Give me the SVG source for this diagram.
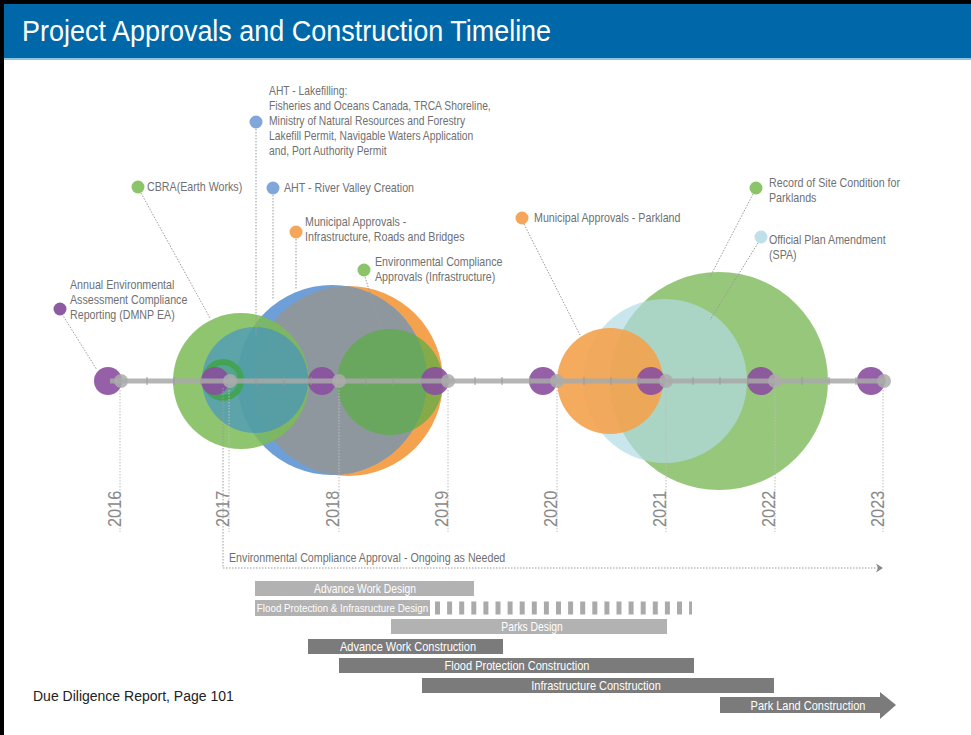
<svg xmlns="http://www.w3.org/2000/svg" width="971" height="735" viewBox="0 0 971 735">
<defs>
<style>
.lbl{font-family:"Liberation Sans",Arial,sans-serif;font-size:12px;fill:#707070}
.yr{font-family:"Liberation Sans",Arial,sans-serif;font-size:19px;fill:#8a8a8a}
.bt{font-family:"Liberation Sans",Arial,sans-serif;font-size:12px;fill:#ffffff;text-anchor:middle}
.bd{font-size:12.5px}
.lead{stroke:#9a9a9a;stroke-width:1;stroke-dasharray:1.5 1.5;fill:none}
.yl{stroke:#bdbdbd;stroke-width:1;stroke-dasharray:1.5 1.5}
.pd{fill:#8a4f9f;opacity:0.9}
.cap{fill:#ababab;opacity:0.85}
.tick{stroke:#999999;stroke-width:1}
.lb{fill:#b2b2b2}
.db{fill:#7b7b7b}
</style>
<clipPath id="orClip"><circle cx="348" cy="381" r="95"/></clipPath>
</defs>
<rect x="0" y="0" width="971" height="735" fill="#ffffff"/>
<rect x="0" y="0" width="971" height="4" fill="#000000"/>
<rect x="0" y="0" width="4" height="735" fill="#000000"/>
<rect x="4" y="4" width="967" height="54" fill="#0068a8"/>
<rect x="4" y="58" width="967" height="2" fill="#8fc3e0"/>
<text transform="translate(22,41) scale(0.93,1)" font-family="Liberation Sans, Arial, sans-serif" font-size="29" fill="#ffffff">Project Approvals and Construction Timeline</text>

<!-- big circles, left cluster -->
<g id="circles-2017-2019">
<circle cx="348" cy="381" r="95" fill="#f5a24f"/>
<circle cx="332" cy="380" r="95" fill="#6e9fd8"/>
<circle cx="332" cy="380" r="95" fill="#8f979e" clip-path="url(#orClip)"/>
<circle cx="390" cy="382" r="53" fill="#5aad45" opacity="0.72"/>
<circle cx="241" cy="381" r="68" fill="#7dbb57" opacity="0.85"/>
<circle cx="255" cy="380" r="53" fill="#3b8dd0" opacity="0.6"/>
<circle cx="223" cy="380" r="18" fill="#3fa448" fill-opacity="0.25" stroke="#3fa448" stroke-width="6" stroke-opacity="0.85"/>
</g>

<!-- big circles, right cluster -->
<g id="circles-2020-2022">
<circle cx="719" cy="381" r="109" fill="#97c77a"/>
<circle cx="665" cy="381" r="82" fill="#b2dbe5" opacity="0.7"/>
<circle cx="610" cy="381" r="53" fill="#f4a24c" opacity="0.9"/>
</g>

<!-- year guide lines -->
<g id="year-lines">
<line class="yl" x1="120" y1="390" x2="120" y2="532"/>
<line class="yl" x1="229" y1="390" x2="229" y2="532"/>
<line class="yl" x1="339" y1="390" x2="339" y2="532"/>
<line class="yl" x1="448" y1="390" x2="448" y2="532"/>
<line class="yl" x1="557" y1="390" x2="557" y2="532"/>
<line class="yl" x1="666" y1="390" x2="666" y2="532"/>
<line class="yl" x1="775" y1="390" x2="775" y2="532"/>
<line class="yl" x1="883" y1="390" x2="883" y2="532"/>
</g>

<!-- timeline axis -->
<g id="axis">
<circle class="pd" cx="108" cy="381" r="14"/>
<circle class="pd" cx="215" cy="381" r="14"/>
<circle class="pd" cx="322" cy="381" r="14"/>
<circle class="pd" cx="435" cy="381" r="14"/>
<circle class="pd" cx="543" cy="381" r="14"/>
<circle class="pd" cx="651" cy="381" r="14"/>
<circle class="pd" cx="761" cy="381" r="14"/>
<circle class="pd" cx="871" cy="381" r="14"/>
<line x1="110" y1="381" x2="886" y2="381" stroke="#a9a9a9" stroke-width="5" opacity="0.85"/>
<g class="tick">
<line x1="147" y1="377" x2="147" y2="385"/><line x1="174" y1="377" x2="174" y2="385"/><line x1="201" y1="377" x2="201" y2="385"/>
<line x1="256" y1="377" x2="256" y2="385"/><line x1="284" y1="377" x2="284" y2="385"/><line x1="311" y1="377" x2="311" y2="385"/>
<line x1="366" y1="377" x2="366" y2="385"/><line x1="393" y1="377" x2="393" y2="385"/><line x1="421" y1="377" x2="421" y2="385"/>
<line x1="475" y1="377" x2="475" y2="385"/><line x1="502" y1="377" x2="502" y2="385"/><line x1="530" y1="377" x2="530" y2="385"/>
<line x1="584" y1="377" x2="584" y2="385"/><line x1="611" y1="377" x2="611" y2="385"/><line x1="639" y1="377" x2="639" y2="385"/>
<line x1="693" y1="377" x2="693" y2="385"/><line x1="720" y1="377" x2="720" y2="385"/><line x1="748" y1="377" x2="748" y2="385"/>
<line x1="802" y1="377" x2="802" y2="385"/><line x1="829" y1="377" x2="829" y2="385"/><line x1="856" y1="377" x2="856" y2="385"/>
</g>
<circle class="cap" cx="121" cy="381" r="7"/>
<circle class="cap" cx="230" cy="381" r="7"/>
<circle class="cap" cx="339" cy="381" r="7"/>
<circle class="cap" cx="448" cy="381" r="7"/>
<circle class="cap" cx="557" cy="381" r="7"/>
<circle class="cap" cx="666" cy="381" r="7"/>
<circle class="cap" cx="775" cy="381" r="7"/>
<circle class="cap" cx="884" cy="381" r="7"/>
</g>

<!-- year labels -->
<g id="years">
<text class="yr" transform="translate(121,527) rotate(-90) scale(0.86,1)">2016</text>
<text class="yr" transform="translate(229,527) rotate(-90) scale(0.86,1)">2017</text>
<text class="yr" transform="translate(339,527) rotate(-90) scale(0.86,1)">2018</text>
<text class="yr" transform="translate(448,527) rotate(-90) scale(0.86,1)">2019</text>
<text class="yr" transform="translate(557,527) rotate(-90) scale(0.86,1)">2020</text>
<text class="yr" transform="translate(666,527) rotate(-90) scale(0.86,1)">2021</text>
<text class="yr" transform="translate(775,527) rotate(-90) scale(0.86,1)">2022</text>
<text class="yr" transform="translate(884,527) rotate(-90) scale(0.86,1)">2023</text>
</g>

<!-- connectors -->
<g id="connectors">
<line class="lead" x1="62" y1="314" x2="97" y2="370"/>
<line class="lead" x1="141" y1="193" x2="210" y2="318"/>
<line class="lead" x1="256" y1="129" x2="256" y2="335"/>
<line class="lead" x1="273" y1="195" x2="273" y2="300"/>
<line class="lead" x1="296" y1="239" x2="296" y2="290"/>
<line class="lead" x1="365" y1="277" x2="380" y2="325"/>
<line class="lead" x1="524" y1="224" x2="580" y2="335"/>
<line class="lead" x1="753" y1="194" x2="710" y2="277"/>
<line class="lead" x1="758" y1="243" x2="710" y2="320"/>
<polyline class="lead" points="223,388 223,568 880,568"/>
<path d="M876,563.5 L883,568 L876,572.5 L878,568 Z" fill="#8a8a8a"/>
</g>

<!-- labels -->
<g id="label-annual-ea">
<circle cx="60" cy="309" r="6.5" fill="#8e5aa2"/>
<text class="lbl" transform="translate(70,0) scale(0.89,1)"><tspan x="0" y="289">Annual Environmental</tspan><tspan x="0" y="304">Assessment Compliance</tspan><tspan x="0" y="319">Reporting (DMNP EA)</tspan></text>
</g>
<g id="label-cbra">
<circle cx="138" cy="187" r="6.5" fill="#8cc46a"/>
<text class="lbl" transform="translate(147,0) scale(0.89,1)"><tspan x="0" y="191">CBRA(Earth Works)</tspan></text>
</g>
<g id="label-aht-lakefilling">
<circle cx="256" cy="122" r="6.5" fill="#80a6da"/>
<text class="lbl" transform="translate(269,0) scale(0.86,1)"><tspan x="0" y="95">AHT - Lakefilling:</tspan><tspan x="0" y="110">Fisheries and Oceans Canada, TRCA Shoreline,</tspan><tspan x="0" y="125">Ministry of Natural Resources and Forestry</tspan><tspan x="0" y="140">Lakefill Permit, Navigable Waters Application</tspan><tspan x="0" y="155">and, Port Authority Permit</tspan></text>
</g>
<g id="label-aht-river">
<circle cx="273" cy="188" r="6.5" fill="#80a6da"/>
<text class="lbl" transform="translate(284,0) scale(0.89,1)"><tspan x="0" y="192">AHT - River Valley Creation</tspan></text>
</g>
<g id="label-municipal-infra">
<circle cx="296" cy="232" r="6.5" fill="#f6a65a"/>
<text class="lbl" transform="translate(305,0) scale(0.89,1)"><tspan x="0" y="226">Municipal Approvals -</tspan><tspan x="0" y="241">Infrastructure, Roads and Bridges</tspan></text>
</g>
<g id="label-eca-infra">
<circle cx="364" cy="270" r="6.5" fill="#8cc46a"/>
<text class="lbl" transform="translate(375,0) scale(0.89,1)"><tspan x="0" y="266">Environmental Compliance</tspan><tspan x="0" y="281">Approvals (Infrastructure)</tspan></text>
</g>
<g id="label-municipal-parkland">
<circle cx="522" cy="218" r="6.5" fill="#f6a65a"/>
<text class="lbl" transform="translate(534,0) scale(0.89,1)"><tspan x="0" y="222">Municipal Approvals - Parkland</tspan></text>
</g>
<g id="label-record-site">
<circle cx="756" cy="188" r="6.5" fill="#8cc46a"/>
<text class="lbl" transform="translate(769,0) scale(0.89,1)"><tspan x="0" y="187">Record of Site Condition for</tspan><tspan x="0" y="202">Parklands</tspan></text>
</g>
<g id="label-opa">
<circle cx="761" cy="237" r="6.5" fill="#bfe0e9"/>
<text class="lbl" transform="translate(769,0) scale(0.89,1)"><tspan x="0" y="244">Official Plan Amendment</tspan><tspan x="0" y="259">(SPA)</tspan></text>
</g>
<g id="label-eca-ongoing">
<text class="lbl" transform="translate(229,0) scale(0.89,1)"><tspan x="0" y="562">Environmental Compliance Approval - Ongoing as Needed</tspan></text>
</g>

<!-- schedule bars -->
<g id="bar-advance-design">
<rect class="lb" x="255" y="581" width="219" height="15"/>
<text class="bt" transform="translate(365,592.5) scale(0.86,1)">Advance Work Design</text>
</g>
<g id="bar-flood-design">
<rect class="lb" x="255" y="600" width="175" height="16"/>
<line x1="435" y1="608" x2="692" y2="608" stroke="#aaaaaa" stroke-width="13" stroke-dasharray="5 7.1"/>
<text class="bt" style="font-size:11px" transform="translate(342.5,612) scale(0.89,1)">Flood Protection &amp; Infrasructure Design</text>
</g>
<g id="bar-parks-design">
<rect class="lb" x="391" y="619" width="276" height="15"/>
<text class="bt" transform="translate(532,630.5) scale(0.86,1)">Parks Design</text>
</g>
<g id="bar-advance-construction">
<rect class="db" x="308" y="639" width="195" height="15"/>
<text class="bt bd" transform="translate(408,650.5) scale(0.88,1)">Advance Work Construction</text>
</g>
<g id="bar-flood-construction">
<rect class="db" x="339" y="658" width="355" height="15"/>
<text class="bt bd" transform="translate(517,669.5) scale(0.88,1)">Flood Protection Construction</text>
</g>
<g id="bar-infra-construction">
<rect class="db" x="422" y="678" width="352" height="15"/>
<text class="bt bd" transform="translate(596,689.5) scale(0.88,1)">Infrastructure Construction</text>
</g>
<g id="bar-parkland-construction">
<path class="db" d="M720,697 L880,697 L880,692 L896,705 L880,719 L880,713 L720,713 Z"/>
<text class="bt bd" transform="translate(808,709.5) scale(0.88,1)">Park Land Construction</text>
</g>

<text x="33" y="701" font-family="Liberation Sans, Arial, sans-serif" font-size="14" fill="#222222">Due Diligence Report, Page 101</text>
</svg>
